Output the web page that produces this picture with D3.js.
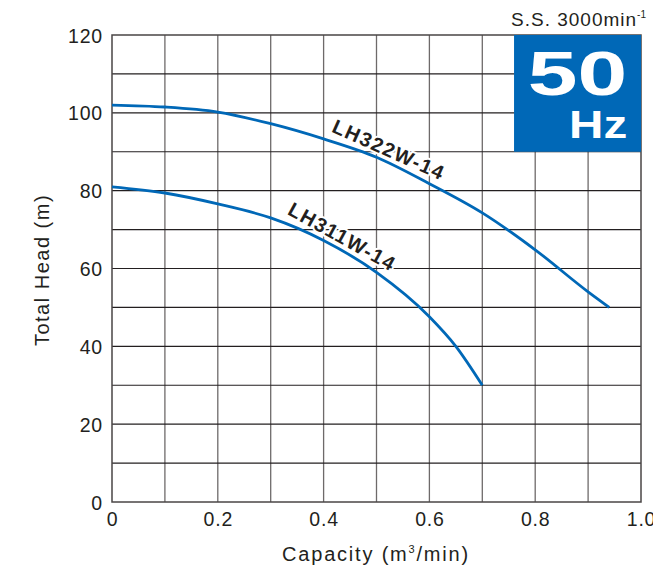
<!DOCTYPE html>
<html>
<head>
<meta charset="utf-8">
<script src="https://cdn.jsdelivr.net/npm/d3@7"></script>
<style>
  body { margin: 0; background: #fff; }
  svg { display: block; font-family: "Liberation Sans", Arial, sans-serif; }
</style>
</head>
<body>
<div id="chart"></div>
<script>
// Pump curves (capacity m3/min -> total head m)
const lh322 = [
  [0, 102], [0.1, 101.5], [0.2, 100.2], [0.3, 97.2], [0.4, 93.3], [0.5, 88.6],
  [0.6, 81.8], [0.7, 74.3], [0.8, 64.8], [0.9, 54], [0.94, 50]
];
const lh311 = [
  [0, 81], [0.1, 79.4], [0.2, 76.6], [0.3, 73], [0.4, 67.2], [0.5, 59],
  [0.6, 47.6], [0.65, 40], [0.7, 30]
];
const xTicks = [0, 0.2, 0.4, 0.6, 0.8, 1.0];
const yTicks = [0, 20, 40, 60, 80, 100, 120];
const curveLabels = [
  { name: 'LH322W-14', q: 0.518, h: 88.9, angle: 24 },
  { name: 'LH311W-14', q: 0.429, h: 66.6, angle: 29 }
];

const W = 653, H = 571;
const margin = { top: 35, right: 12, bottom: 69, left: 112 };
const width = W - margin.left - margin.right;
const height = H - margin.top - margin.bottom;
const ink = '#231f20';

const svg = d3.select('#chart').append('svg')
  .attr('width', W).attr('height', H);
const g = svg.append('g').attr('transform', `translate(${margin.left},${margin.top})`);

const x = d3.scaleLinear().domain([0, 1]).range([0, width]);
const y = d3.scaleLinear().domain([0, 120]).range([height, 0]);

// Grid
g.append('g').selectAll('line').data(d3.range(1, 10).map(i => i / 10)).join('line')
  .attr('x1', d => x(d)).attr('x2', d => x(d)).attr('y1', 0).attr('y2', height)
  .attr('stroke', '#6e6a6a').attr('stroke-width', 1.3);
g.append('g').selectAll('line').data(d3.range(10, 120, 10)).join('line')
  .attr('x1', 0).attr('x2', width).attr('y1', d => y(d)).attr('y2', d => y(d))
  .attr('stroke', ink).attr('stroke-width', 1.2);
g.append('rect').attr('width', width).attr('height', height)
  .attr('fill', 'none').attr('stroke', '#4a4646').attr('stroke-width', 1.5);

// 50 Hz badge
g.append('rect').attr('x', x(0.76)).attr('y', y(120))
  .attr('width', x(1) - x(0.76)).attr('height', y(90) - y(120))
  .attr('fill', '#0068b7');
g.append('text')
  .attr('transform', `translate(${x(0.974)},${y(104.6)}) scale(1.42,1)`)
  .attr('text-anchor', 'end').attr('fill', '#fff').attr('font-weight', 'bold')
  .attr('font-size', '63px').text('50');
g.append('text')
  .attr('transform', `translate(${x(0.974)},${y(93.5)}) scale(1.22,1)`)
  .attr('text-anchor', 'end').attr('fill', '#fff').attr('font-weight', 'bold')
  .attr('font-size', '39px').text('Hz');

// S.S. label
const ss = svg.append('text').attr('x', 646).attr('y', 26)
  .attr('text-anchor', 'end').attr('fill', ink).attr('font-size', '19px');
ss.append('tspan').attr('letter-spacing', '1px').text('S.S. 3000min');
ss.append('tspan').attr('font-size', '10px').attr('dy', -8).text('-1');

// Axes
const xAxis = g.append('g').attr('transform', `translate(0,${height})`)
  .call(d3.axisBottom(x).tickValues(xTicks).tickSize(0).tickPadding(10)
    .tickFormat(d => d === 0 ? '0' : d3.format('.1f')(d)));
const yAxis = g.append('g')
  .call(d3.axisLeft(y).tickValues(yTicks).tickSize(0).tickPadding(9));
[xAxis, yAxis].forEach(a => {
  a.select('.domain').remove();
  a.selectAll('text').attr('fill', ink).attr('font-size', '19.5px')
    .attr('font-family', '"Liberation Sans", Arial, sans-serif');
});
xAxis.selectAll('text').attr('dy', '0.72em').attr('letter-spacing', '0.8px');
yAxis.selectAll('text').attr('dy', '0.36em').attr('letter-spacing', '0.8px');

// Axis titles
const xt = svg.append('text').attr('x', 376).attr('y', 561)
  .attr('text-anchor', 'middle').attr('fill', ink).attr('font-size', '20px')
  .attr('letter-spacing', '1.8px');
xt.append('tspan').text('Capacity (m');
xt.append('tspan').attr('font-size', '11px').attr('dy', -8).text('3');
xt.append('tspan').attr('dy', 8).text('/min)');
svg.append('text').attr('transform', 'translate(49,270) rotate(-90)')
  .attr('text-anchor', 'middle').attr('fill', ink).attr('font-size', '20px')
  .attr('letter-spacing', '1.5px').text('Total Head (m)');

// Curves
const line = d3.line().x(d => x(d[0])).y(d => y(d[1])).curve(d3.curveMonotoneX);
[lh322, lh311].forEach(pts => {
  g.append('path').datum(pts).attr('fill', 'none')
    .attr('stroke', '#0068b7').attr('stroke-width', 2.8).attr('d', line);
});

// Curve labels
curveLabels.forEach(l => {
  g.append('text')
    .attr('transform', `translate(${x(l.q)},${y(l.h)}) rotate(${l.angle})`)
    .attr('text-anchor', 'middle').attr('font-weight', 'bold').attr('font-size', '20px')
    .attr('letter-spacing', '1.5px')
    .attr('fill', ink).attr('stroke', '#fff').attr('stroke-width', 4)
    .attr('paint-order', 'stroke').attr('stroke-linejoin', 'round')
    .text(l.name);
});
</script>
</body>
</html>
